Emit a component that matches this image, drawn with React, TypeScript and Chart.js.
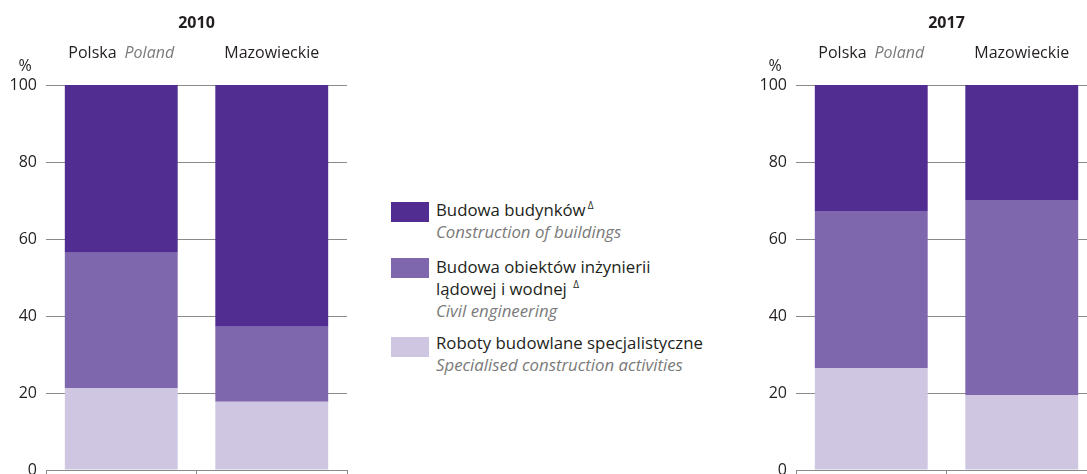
import React, { useEffect, useRef } from "react";
import { Chart, registerables } from "chart.js";

Chart.register(...registerables);

const categories = ["Polska", "Mazowieckie"];
const categoriesEn = ["Poland", ""];
const years = ["2010", "2017"];
const yTicks = [0, 20, 40, 60, 80, 100];

const specialised2010 = [21.3, 17.7];
const civil2010 = [35.1, 19.5];
const buildings2010 = [43.6, 62.8];

const specialised2017 = [26.5, 19.5];
const civil2017 = [40.8, 50.6];
const buildings2017 = [32.7, 29.9];

const seriesPl = ["Budowa budynków", "Budowa obiektów inżynierii lądowej i wodnej", "Roboty budowlane specjalistyczne"];
const seriesEn = ["Construction of buildings", "Civil engineering", "Specialised construction activities"];

const COLORS = { buildings: "#512D91", civil: "#7F67AE", spec: "#CFC7E2" };
const FONT = '"Open Sans", "Noto Sans", sans-serif';
const TEXT = "#231F20";
const GREY_TEXT = "#7A7A7A";
const GRID = "#8A8A8A";

const labelPlugin = {
  id: "labels",
  afterDraw(chart: any) {
    const ctx = chart.ctx;
    const area = chart.chartArea;
    const x = chart.scales.x;
    const opts = chart.options.plugins.labels;
    ctx.save();
    ctx.textBaseline = "alphabetic";
    ctx.fillStyle = TEXT;
    ctx.font = `bold 16px ${FONT}`;
    ctx.textAlign = "center";
    ctx.fillText(opts.title, (area.left + area.right) / 2, 28);
    categories.forEach((c, i) => {
      const cx = x.getPixelForValue(i);
      ctx.font = `16px ${FONT}`;
      const w1 = ctx.measureText(c).width;
      const en = categoriesEn[i];
      let total = w1;
      let w2 = 0;
      const gap = en ? 8 : 0;
      if (en) {
        ctx.font = `italic 16px ${FONT}`;
        w2 = ctx.measureText(en).width;
        total += gap + w2;
      }
      const start = cx - total / 2;
      ctx.textAlign = "left";
      ctx.font = `16px ${FONT}`;
      ctx.fillStyle = TEXT;
      ctx.fillText(c, start, 58);
      if (en) {
        ctx.font = `italic 16px ${FONT}`;
        ctx.fillStyle = GREY_TEXT;
        ctx.fillText(en, start + w1 + gap, 58);
      }
    });
    ctx.font = `16px ${FONT}`;
    ctx.fillStyle = TEXT;
    ctx.textAlign = "center";
    ctx.fillText("%", 25, 71);
    ctx.restore();
  },
};

function makeConfig(title: string, spec: number[], civil: number[], build: number[]): any {
  return {
    type: "bar",
    data: {
      labels: categories,
      datasets: [
        { label: seriesPl[2], data: spec, backgroundColor: COLORS.spec, barPercentage: 0.75, categoryPercentage: 1 },
        { label: seriesPl[1], data: civil, backgroundColor: COLORS.civil, barPercentage: 0.75, categoryPercentage: 1 },
        { label: seriesPl[0], data: build, backgroundColor: COLORS.buildings, barPercentage: 0.75, categoryPercentage: 1 },
      ],
    },
    options: {
      responsive: false,
      animation: false,
      layout: { padding: { top: 85, right: 13, bottom: 0, left: 0 } },
      plugins: {
        legend: { display: false },
        tooltip: { enabled: false },
        title: { display: false },
        labels: { title },
      },
      scales: {
        x: {
          stacked: true,
          grid: { offset: true, drawOnChartArea: false, drawTicks: true, tickLength: 4, color: GRID, lineWidth: 1 },
          border: { display: true, color: GRID, width: 1 },
          ticks: { display: false },
          afterFit: (scale: any) => {
            scale.height = 4;
            scale.paddingLeft = 0;
            scale.paddingRight = 0;
          },
        },
        y: {
          stacked: true,
          min: 0,
          max: 100,
          afterBuildTicks: (scale: any) => {
            scale.ticks = yTicks.map((v) => ({ value: v }));
          },
          afterFit: (scale: any) => {
            scale.width = 46;
            scale.paddingTop = 0;
            scale.paddingBottom = 0;
          },
          grid: { drawTicks: false, color: GRID, lineWidth: 1 },
          border: { display: false },
          ticks: {
            padding: 9,
            color: TEXT,
            font: { family: FONT, size: 16 },
          },
        },
      },
    },
    plugins: [labelPlugin],
  };
}

function BarChart({ title, spec, civil, build, left }: any) {
  const ref = useRef<HTMLCanvasElement>(null);
  useEffect(() => {
    const chart = new Chart(ref.current as HTMLCanvasElement, makeConfig(title, spec, civil, build));
    return () => chart.destroy();
  }, []);
  return (
    <canvas
      ref={ref}
      width={360}
      height={474}
      style={{ position: "absolute", left, top: 0, width: 360, height: 474 }}
    />
  );
}

const legendColors = [COLORS.buildings, COLORS.civil, COLORS.spec];

function Legend() {
  const line = (text: any, top: number, italic = false) => (
    <div
      style={{
        position: "absolute",
        left: 436,
        top,
        fontFamily: FONT,
        fontSize: 16.8,
        lineHeight: "22px",
        whiteSpace: "nowrap",
        color: italic ? GREY_TEXT : TEXT,
        fontStyle: italic ? "italic" : "normal",
      }}
    >
      {text}
    </div>
  );
  const sup = <span style={{ fontSize: 10, position: "relative", top: -7, marginLeft: 2 }}>Δ</span>;
  const square = (top: number, color: string) => (
    <div style={{ position: "absolute", left: 391, top, width: 38, height: 20, background: color }} />
  );
  return (
    <>
      {square(202, legendColors[0])}
      {line(<>{seriesPl[0]}{sup}</>, 199)}
      {line(seriesEn[0], 221, true)}
      {square(258, legendColors[1])}
      {line("Budowa obiektów inżynierii", 256)}
      {line(<>lądowej i wodnej {sup}</>, 278)}
      {line(seriesEn[1], 300, true)}
      {square(337, legendColors[2])}
      {line(seriesPl[2], 332)}
      {line(seriesEn[2], 354, true)}
    </>
  );
}

export default function App() {
  return (
    <div
      style={{
        position: "absolute",
        left: 0,
        top: 0,
        width: 1087,
        height: 474,
        overflow: "hidden",
        background: "#fff",
      }}
    >
      <BarChart title={years[0]} spec={specialised2010} civil={civil2010} build={buildings2010} left={0} />
      <BarChart title={years[1]} spec={specialised2017} civil={civil2017} build={buildings2017} left={750} />
      <Legend />
    </div>
  );
}
